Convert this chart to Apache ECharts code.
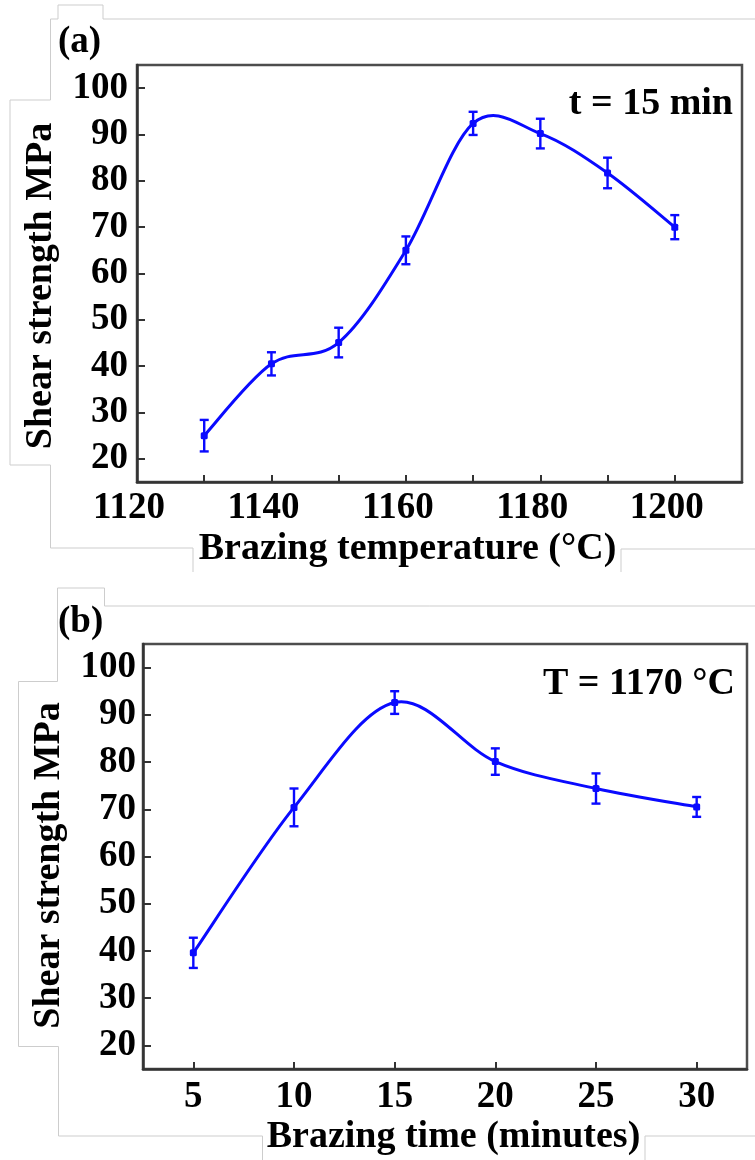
<!DOCTYPE html>
<html>
<head>
<meta charset="utf-8">
<style>
  html, body { margin: 0; padding: 0; background: #ffffff; }
  #chart { width: 755px; height: 1160px; }
</style>
<script src="https://cdn.jsdelivr.net/npm/echarts@6/dist/echarts.min.js"></script>
</head>
<body>
<div id="chart"></div>
<script>
// (a) shear strength vs brazing temperature, holding time 15 min
const tempA = [1130, 1140, 1150, 1160, 1170, 1180, 1190, 1200];
const strengthA = [25.0, 40.5, 45.1, 65.0, 92.4, 90.2, 81.7, 70.0];
const errA = [3.4, 2.5, 3.2, 3.0, 2.5, 3.2, 3.3, 2.6];

// (b) shear strength vs brazing time at 1170 °C
const timeB = [5, 10, 15, 20, 25, 30];
const strengthB = [39.6, 70.4, 92.6, 80.1, 74.4, 70.5];
const errB = [3.2, 4.0, 2.4, 2.8, 3.2, 2.1];

// tick values and labels
const yTicks = [20, 30, 40, 50, 60, 70, 80, 90, 100];
const xTicksA = [1130, 1140, 1150, 1160, 1170, 1180, 1190, 1200];
const xLabelsA = [1120, 1140, 1160, 1180, 1200];
const xTicksB = [5, 10, 15, 20, 25, 30];

const FONT = 'Liberation Serif';
const BLUE = '#0a0aff';
const AXIS = '#333333';

const chart = echarts.init(document.getElementById('chart'), null, { renderer: 'canvas' });

// Each item draws its error bar, its marker and the Catmull-Rom segment to the next point.
function splineWithErrors(xs, ys, es) {
  return function (params, api) {
    const i = params.dataIndex;
    const n = xs.length;
    const P = k => api.coord([xs[Math.max(0, Math.min(n - 1, k))], ys[Math.max(0, Math.min(n - 1, k))]]);
    const x = api.value(0), y = api.value(1), e = api.value(2);
    const hi = api.coord([x, y + e]);
    const lo = api.coord([x, y - e]);
    const c = api.coord([x, y]);
    const w = 4.5;
    const bar = { stroke: BLUE, lineWidth: 2.4 };
    const children = [];
    if (i < n - 1) {
      const p0 = P(i - 1), p1 = P(i), p2 = P(i + 1), p3 = P(i + 2);
      children.push({
        type: 'bezierCurve',
        shape: {
          x1: p1[0], y1: p1[1], x2: p2[0], y2: p2[1],
          cpx1: p1[0] + (p2[0] - p0[0]) / 6, cpy1: p1[1] + (p2[1] - p0[1]) / 6,
          cpx2: p2[0] - (p3[0] - p1[0]) / 6, cpy2: p2[1] - (p3[1] - p1[1]) / 6
        },
        style: { stroke: BLUE, lineWidth: 3, fill: null, lineCap: 'round' }
      });
    }
    children.push(
      { type: 'line', shape: { x1: hi[0], y1: hi[1], x2: lo[0], y2: lo[1] }, style: bar },
      { type: 'line', shape: { x1: hi[0] - w, y1: hi[1], x2: hi[0] + w, y2: hi[1] }, style: bar },
      { type: 'line', shape: { x1: lo[0] - w, y1: lo[1], x2: lo[0] + w, y2: lo[1] }, style: bar },
      { type: 'rect', shape: { x: c[0] - 3.5, y: c[1] - 3.5, width: 7, height: 7, r: 1.5 }, style: { fill: BLUE } }
    );
    return { type: 'group', children: children };
  };
}

const plain = v => String(v);
const tickLabel = { fontFamily: FONT, fontWeight: 'bold', fontSize: 37, color: '#000', formatter: plain };
const nameStyle = { fontFamily: FONT, fontWeight: 'bold', fontSize: 38, color: '#000' };

function valueAxis(extra) {
  return Object.assign({
    type: 'value',
    axisLine: { show: true, onZero: false, lineStyle: { color: AXIS, width: 2.5 } },
    splitLine: { show: false }
  }, extra);
}

function ticks(values, len) {
  return { show: true, inside: true, length: len, customValues: values, lineStyle: { color: AXIS, width: 2 } };
}

// light outlines of the pasted panel pieces
const outline = { stroke: '#cdcdcd', lineWidth: 1, fill: null };
const outlines = [
  [[193, 572], [193, 548], [50.5, 548], [50.5, 465], [10, 465], [10, 100], [50.5, 100], [50.5, 19], [58, 19], [58, 5], [103, 5], [103, 19], [755, 19]],
  [[621, 572], [621, 549], [755, 549]],
  [[262.5, 1160], [262.5, 1136], [58.5, 1136], [58.5, 1046.5], [18.5, 1046.5], [18.5, 681.5], [57.5, 681.5], [57.5, 588], [104.5, 588], [104.5, 606], [755, 606]],
  [[645, 1160], [645, 1136], [755, 1136]]
].map(pts => ({ type: 'polyline', silent: true, z: -1, shape: { points: pts }, style: outline }));

const option = {
  backgroundColor: '#ffffff',
  animation: false,
  grid: [
    { left: 137, top: 65, width: 605, height: 417, show: true, borderColor: '#4d4d4d', borderWidth: 2.5, backgroundColor: 'transparent' },
    { left: 143, top: 644, width: 604, height: 425, show: true, borderColor: '#4d4d4d', borderWidth: 2.5, backgroundColor: 'transparent' }
  ],
  xAxis: [
    valueAxis({
      gridIndex: 0, min: 1120, max: 1210,
      axisTick: ticks(xTicksA, 7),
      axisLabel: Object.assign({ margin: 8, customValues: xLabelsA, padding: [0, 16, 0, 0] }, tickLabel),
      name: 'Brazing temperature (°C)', nameLocation: 'middle', nameGap: 48,
      nameTextStyle: Object.assign({ padding: [0, 64, 0, 0] }, nameStyle)
    }),
    valueAxis({
      gridIndex: 1, min: 2.5, max: 32.5,
      axisTick: ticks(xTicksB, 7),
      axisLabel: Object.assign({ margin: 10, customValues: xTicksB }, tickLabel),
      name: 'Brazing time (minutes)', nameLocation: 'middle', nameGap: 49,
      nameTextStyle: Object.assign({ padding: [0, 0, 0, 17] }, nameStyle)
    })
  ],
  yAxis: [
    valueAxis({
      gridIndex: 0, min: 15, max: 105,
      axisTick: ticks(yTicks, 8),
      axisLabel: Object.assign({ margin: 9, customValues: yTicks }, tickLabel),
      name: 'Shear strength MPa', nameLocation: 'middle', nameGap: 77,
      nameTextStyle: Object.assign({ padding: [0, 25, 0, 0] }, nameStyle)
    }),
    valueAxis({
      gridIndex: 1, min: 15, max: 105,
      axisTick: ticks(yTicks, 8),
      axisLabel: Object.assign({ margin: 7, customValues: yTicks }, tickLabel),
      name: 'Shear strength MPa', nameLocation: 'middle', nameGap: 75,
      nameTextStyle: Object.assign({ padding: [0, 18, 0, 0] }, nameStyle)
    })
  ],
  series: [
    {
      type: 'custom', xAxisIndex: 0, yAxisIndex: 0,
      renderItem: splineWithErrors(tempA, strengthA, errA),
      data: tempA.map((t, i) => [t, strengthA[i], errA[i]]), z: 3
    },
    {
      type: 'custom', xAxisIndex: 1, yAxisIndex: 1,
      renderItem: splineWithErrors(timeB, strengthB, errB),
      data: timeB.map((t, i) => [t, strengthB[i], errB[i]]), z: 3
    }
  ],
  graphic: outlines.concat([
    { type: 'text', left: 58, top: 24, style: { text: '(a)', font: 'bold 37px "Liberation Serif"', fill: '#000' } },
    { type: 'text', left: 58, top: 604, style: { text: '(b)', font: 'bold 37px "Liberation Serif"', fill: '#000' } },
    { type: 'text', x: 733, y: 104, style: { text: 't = 15 min', font: 'bold 38px "Liberation Serif"', fill: '#000', align: 'right', verticalAlign: 'middle' } },
    { type: 'text', x: 735, y: 684, style: { text: 'T = 1170 °C', font: 'bold 38px "Liberation Serif"', fill: '#000', align: 'right', verticalAlign: 'middle' } }
  ])
};

chart.setOption(option);
</script>
</body>
</html>
